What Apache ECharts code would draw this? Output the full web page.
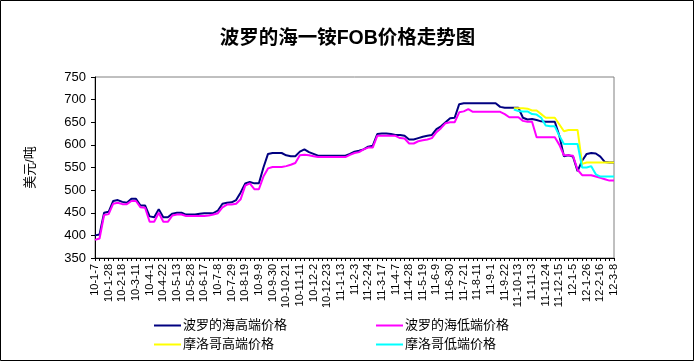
<!DOCTYPE html>
<html>
<head>
<meta charset="utf-8">
<script src="https://cdn.jsdelivr.net/npm/echarts@6/dist/echarts.min.js"></script>
<style>
  html, body { margin: 0; padding: 0; background: #fff; }
  #chart { width: 695px; height: 362px; }
</style>
</head>
<body>
<div id="chart"></div>
<script>
// Labeled dates (every third weekly point)
const labelDates = ['10-1-7','10-1-28','10-2-18','10-3-11','10-4-1','10-4-22','10-5-13','10-5-28','10-6-17','10-7-8',
  '10-7-29','10-8-19','10-9-9','10-9-30','10-10-21','10-11-11','10-12-2','10-12-23','11-1-13','11-2-3',
  '11-2-24','11-3-17','11-4-7','11-4-28','11-5-19','11-6-9','11-6-30','11-7-21','11-8-11','11-9-1',
  '11-9-22','11-10-13','11-11-3','11-11-24','11-12-15','12-1-5','12-1-26','12-2-16','12-3-8'];

const yTicks = [350, 400, 450, 500, 550, 600, 650, 700, 750];

// 波罗的海高端价格
const balticHigh = [400,402,450,452,476,478,474,472,481,481,
  466,466,442,440,458,440,440,448,450,450,
  446,446,446,448,449,449,449,455,470,472,
  473,478,495,515,518,515,515,550,580,582,
  582,582,577,575,575,585,590,584,580,576,
  576,576,576,576,576,576,580,585,587,590,
  596,598,624,625,625,624,622,622,620,612,
  612,615,618,620,622,635,641,650,659,660,
  690,692,692,692,692,692,692,692,692,684,
  682,682,682,682,660,656,657,655,652,651,
  651,651,620,575,577,574,542,565,580,582,
  581,574,562,561,561];

// 波罗的海低端价格
const balticLow = [390,393,445,447,470,472,469,469,476,476,
  462,461,430,430,450,430,430,444,446,446,
  443,443,443,443,443,444,446,449,462,468,
  468,470,480,510,515,502,502,530,548,551,
  551,551,553,556,560,577,578,577,575,573,
  573,573,573,573,573,573,578,582,584,590,
  594,594,620,620,620,620,620,615,614,603,
  603,608,610,612,615,628,637,648,650,650,
  672,674,679,673,673,673,673,673,673,673,
  668,661,661,661,653,651,651,617,617,617,
  617,617,600,577,577,576,545,533,533,533,
  530,527,524,521,521];

// 摩洛哥高端价格 (starts at 11-10-6)
const moroccoHigh = [681,681,681,680,676,676,668,660,660,660,
  645,630,633,633,633,558,561,561,561,561,
  561,561,561];

// 摩洛哥低端价格
const moroccoLow = [678,675,674,674,668,667,660,643,641,641,
  620,602,602,602,602,550,550,553,535,530,
  530,530,530];

function addDays(s, d) {
  const p = s.split('-').map(Number);
  const dt = new Date(2000 + p[0], p[1] - 1, p[2] + d);
  return (dt.getFullYear() - 2000) + '-' + (dt.getMonth() + 1) + '-' + dt.getDate();
}
const categories = [];
labelDates.forEach(function (d, k) {
  categories.push(d);
  if (k < labelDates.length - 1) {
    categories.push(addDays(d, 7));
    categories.push(addDays(d, 14));
  }
});
function padFront(arr) {
  const out = new Array(categories.length - arr.length).fill(null);
  return out.concat(arr);
}

const FONT = 'Liberation Sans, Arial, "Noto Sans CJK SC", sans-serif';
const names = ['波罗的海高端价格', '波罗的海低端价格', '摩洛哥高端价格', '摩洛哥低端价格'];
const colors = ['#000080', '#FF00FF', '#FFFF00', '#00FFFF'];
const legendPos = [[154, 319], [376, 319], [154, 338], [376, 338]];

const chart = echarts.init(document.getElementById('chart'));
chart.setOption({
  animation: false,
  backgroundColor: '#fff',
  title: {
    text: '波罗的海一铵FOB价格走势图',
    left: 'center',
    top: 24,
    textStyle: { fontFamily: FONT, fontSize: 19.5, fontWeight: 'bold', color: '#000' }
  },
  legend: names.map(function (n, k) {
    return {
      data: [n],
      left: legendPos[k][0],
      top: legendPos[k][1],
      orient: 'horizontal',
      icon: 'rect',
      itemWidth: 27,
      itemHeight: 2,
      padding: 0,
      textStyle: { fontFamily: FONT, fontSize: 13, color: '#000', padding: [0, 0, 0, -3] }
    };
  }),
  grid: {
    left: 95, right: 81, top: 77, bottom: 104,
    show: true, borderColor: '#808080', borderWidth: 1
  },
  xAxis: {
    type: 'category',
    data: categories,
    boundaryGap: false,
    axisLine: { lineStyle: { color: '#000', width: 1 } },
    axisTick: { show: true, interval: 0, length: 3, lineStyle: { color: '#000' } },
    axisLabel: {
      interval: 2, rotate: 90, margin: 6,
      fontFamily: FONT, fontSize: 11, color: '#000'
    },
    splitLine: { show: false }
  },
  yAxis: {
    type: 'value',
    min: yTicks[0],
    max: yTicks[yTicks.length - 1],
    interval: 50,
    name: '美元/吨',
    nameLocation: 'middle',
    nameRotate: 90,
    nameGap: 58,
    nameTextStyle: { fontFamily: FONT, fontSize: 13, color: '#000' },
    axisLine: { show: true, lineStyle: { color: '#000', width: 1 } },
    axisTick: { show: true, length: 4, lineStyle: { color: '#000' } },
    axisLabel: { fontFamily: FONT, fontSize: 13, color: '#000', margin: 9 },
    splitLine: { show: false }
  },
  series: [
    { name: names[0], type: 'line', data: balticHigh },
    { name: names[1], type: 'line', data: balticLow },
    { name: names[2], type: 'line', data: padFront(moroccoHigh) },
    { name: names[3], type: 'line', data: padFront(moroccoLow) }
  ].map(function (s, k) {
    s.showSymbol = false;
    s.symbol = 'none';
    s.smooth = false;
    s.color = colors[k];
    s.lineStyle = { color: colors[k], width: 2 };
    return s;
  }),
  graphic: [{
    type: 'rect',
    shape: { x: 0.5, y: 0.5, width: 693, height: 360 },
    style: { fill: null, stroke: '#000', lineWidth: 1 },
    silent: true
  }]
});
</script>
</body>
</html>
